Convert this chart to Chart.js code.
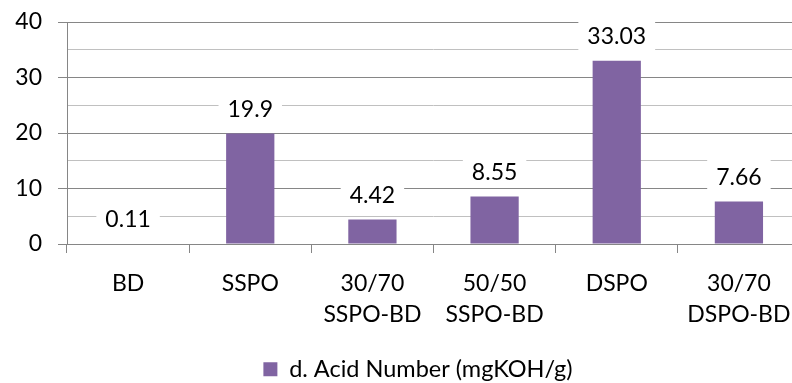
<!DOCTYPE html>
<html>
<head>
<meta charset="utf-8">
<script src="https://cdn.jsdelivr.net/npm/chart.js@4/dist/chart.umd.min.js"></script>
<style>
  html, body { margin: 0; padding: 0; background: #fff; overflow: hidden; }
  #wrap { width: 836px; height: 383px; }
</style>
</head>
<body>
<div id="wrap"><canvas id="acidChart" width="836" height="383"></canvas></div>
<script>
// chart data
var categories = ['BD', 'SSPO', ['30/70', 'SSPO-BD'], ['50/50', 'SSPO-BD'], 'DSPO', ['30/70', 'DSPO-BD']];
var acidValues = [0.11, 19.9, 4.42, 8.55, 33.03, 7.66];
var seriesName = 'd. Acid Number (mgKOH/g)';
var yMin = 0, yMax = 40, yMajorStep = 10, yMinorStep = 5;

var barColor = '#8064A2';
var majorGrid = '#868686';
var minorGrid = '#C0C0C0';
var fontFamily = 'Lato, "Open Sans", sans-serif';

// white boxed value labels above each bar
var valueLabels = {
    id: 'valueLabels',
    beforeInit: function (chart) {
        // keep the legend strip compact
        var origFit = chart.legend.fit;
        chart.legend.fit = function () {
            origFit.call(this);
            this.height = 30;
        };
    },
    afterDatasetsDraw: function (chart) {
        var ctx = chart.ctx;
        var meta = chart.getDatasetMeta(0);
        ctx.save();
        ctx.font = '23px ' + fontFamily;
        ctx.textAlign = 'center';
        ctx.textBaseline = 'middle';
        meta.data.forEach(function (bar, i) {
            var txt = String(acidValues[i]);
            var w = ctx.measureText(txt).width;
            var cy = bar.y - 26;
            ctx.fillStyle = '#fff';
            ctx.fillRect(bar.x - w / 2 - 9, cy - 17, w + 18, 34);
            ctx.fillStyle = '#000';
            ctx.fillText(txt, bar.x, cy + 2);
        });
        ctx.restore();
    }
};

function noPad(scale) {
    scale.paddingTop = 0;
    scale.paddingBottom = 0;
    scale.paddingLeft = 0;
    scale.paddingRight = 0;
}

document.addEventListener('DOMContentLoaded', function () {
    var acidCtx = document.getElementById('acidChart').getContext('2d');
    var acidChart = new Chart(acidCtx, {
        type: 'bar',
        data: {
            labels: categories,
            datasets: [{
                label: seriesName,
                data: acidValues,
                backgroundColor: barColor,
                barPercentage: 0.395,
                categoryPercentage: 1.0
            }]
        },
        options: {
            responsive: false,
            animation: false,
            layout: { padding: { top: 22, left: 0, right: 0, bottom: 0 } },
            scales: {
                x: {
                    afterFit: function (scale) { scale.height = 109; noPad(scale); },
                    grid: {
                        drawOnChartArea: false,
                        offset: true,
                        tickLength: 9,
                        color: majorGrid
                    },
                    border: { color: majorGrid },
                    ticks: {
                        color: '#000',
                        padding: 15,
                        maxRotation: 0,
                        autoSkip: false,
                        font: { family: fontFamily, size: 23, lineHeight: 1.35 }
                    }
                },
                // light minor gridlines every 5 (invisible axis on the right)
                yMinor: {
                    position: 'right',
                    min: yMin,
                    max: yMax,
                    afterFit: function (scale) { scale.width = 36; noPad(scale); },
                    ticks: { display: false, stepSize: yMinorStep },
                    grid: { color: minorGrid, drawTicks: false, z: -2 },
                    border: { display: false }
                },
                y: {
                    position: 'left',
                    min: yMin,
                    max: yMax,
                    afterFit: function (scale) { scale.width = 67; noPad(scale); },
                    ticks: {
                        stepSize: yMajorStep,
                        color: '#000',
                        padding: 16,
                        font: { family: fontFamily, size: 23 }
                    },
                    grid: { tickLength: 9, color: majorGrid },
                    border: { color: majorGrid }
                }
            },
            plugins: {
                legend: {
                    position: 'bottom',
                    labels: {
                        boxWidth: 14,
                        boxHeight: 14,
                        padding: 4.5,
                        color: '#000',
                        font: { family: fontFamily, size: 23.5 }
                    }
                },
                tooltip: { enabled: false }
            }
        },
        plugins: [valueLabels]
    });
});
</script>
</body>
</html>
